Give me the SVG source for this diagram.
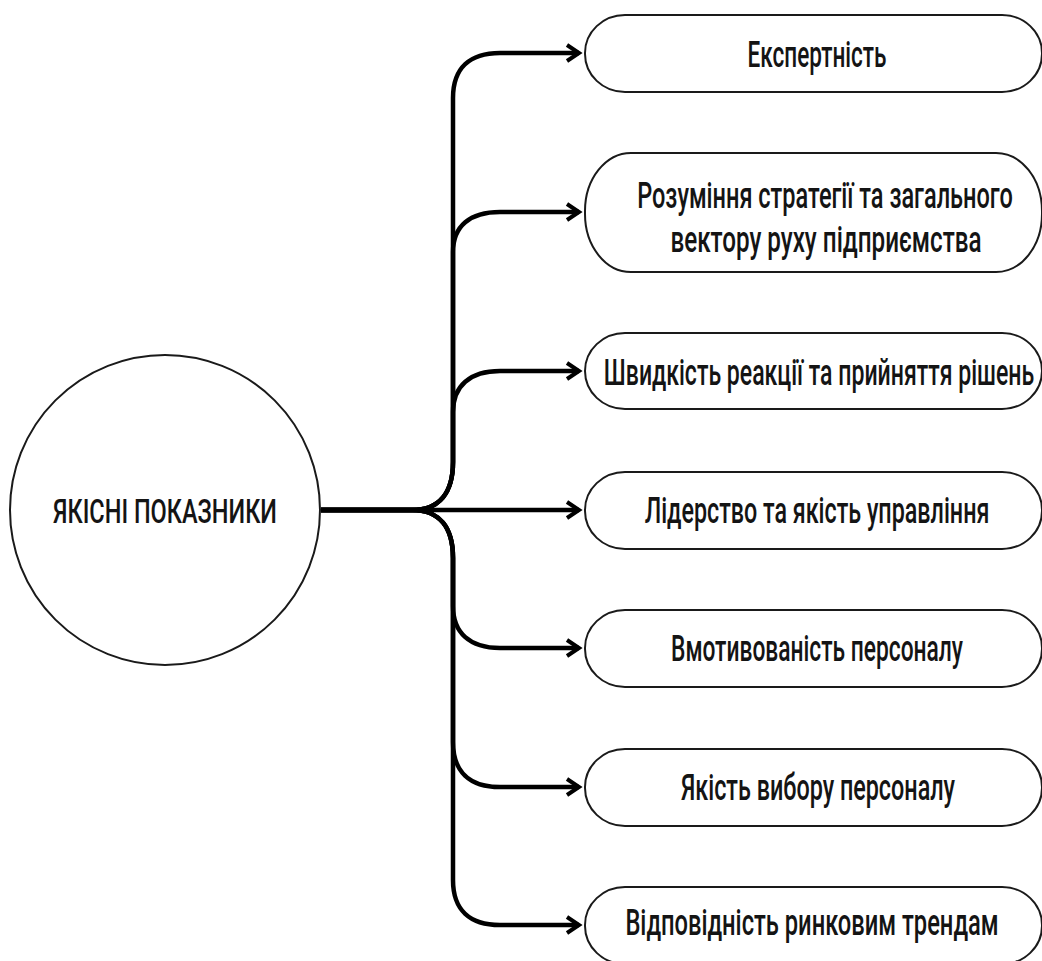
<svg xmlns="http://www.w3.org/2000/svg" width="1042" height="961" viewBox="0 0 1042 961">
  <style>
    .bg { fill: #ffffff; }
    .node-shape { fill: #ffffff; stroke: #1a1a1a; stroke-width: 2; }
    .label { font-family: Roboto, "Liberation Sans", sans-serif; font-weight: 500; font-size: 36px; fill: #141414; text-anchor: middle; }
    .hub-label { font-size: 33px; }
    .edge { fill: none; stroke: #000000; stroke-width: 4.5; stroke-linecap: butt; stroke-linejoin: round; }
  </style>
  <defs>
    <marker id="chevron" markerUnits="userSpaceOnUse" markerWidth="20" markerHeight="24" viewBox="-16 -12 20 24" refX="0" refY="0" orient="auto">
      <path d="M-12,-8 L0,0 L-12,8" fill="none" stroke="#000000" stroke-width="4" stroke-linejoin="miter"/>
    </marker>
  </defs>

  <rect class="bg" x="0" y="0" width="1042" height="961"/>

  <!-- connectors: hub -> each indicator -->
  <g id="connectors">
    <path class="edge" marker-end="url(#chevron)" d="M321,510 H412 C440,510 453,492 453,462 V98 C453,68 470,53 500,53 H579"/>
    <path class="edge" marker-end="url(#chevron)" d="M321,510 H412 C440,510 453,492 453,462 V252 C453,226 470,212 500,212 H579"/>
    <path class="edge" marker-end="url(#chevron)" d="M321,510 H412 C440,510 453,492 453,462 V412 C453,386 470,371 500,371 H579"/>
    <path class="edge" marker-end="url(#chevron)" d="M321,510 H579"/>
    <path class="edge" marker-end="url(#chevron)" d="M321,510 H412 C440,510 453,528 453,558 V606 C453,633 470,648 500,648 H579"/>
    <path class="edge" marker-end="url(#chevron)" d="M321,510 H412 C440,510 453,528 453,558 V742 C453,772 470,787 500,787 H579"/>
    <path class="edge" marker-end="url(#chevron)" d="M321,510 H412 C440,510 453,528 453,558 V880 C453,910 470,925 500,925 H579"/>
  </g>

  <!-- central node; labels use a horizontal squeeze for a condensed face -->
  <g id="hub">
    <ellipse class="node-shape" cx="165" cy="510" rx="155" ry="155"/>
    <text class="label hub-label" transform="translate(165,523) scale(0.62,1)" x="0" y="0" textLength="361" lengthAdjust="spacingAndGlyphs">ЯКІСНІ ПОКАЗНИКИ</text>
  </g>

  <g id="expertise">
    <rect class="node-shape" x="585" y="15" width="457" height="77" rx="40" ry="38"/>
    <text class="label" transform="translate(817,67) scale(0.62,1)" x="0" y="0" textLength="224" lengthAdjust="spacingAndGlyphs">Експертність</text>
  </g>

  <g id="strategy">
    <rect class="node-shape" x="585" y="153" width="457" height="119" rx="46" ry="58"/>
    <text class="label" transform="translate(825,208) scale(0.62,1)" x="0" y="0" textLength="606" lengthAdjust="spacingAndGlyphs">Розуміння стратегії та загального</text>
    <text class="label" transform="translate(826,252) scale(0.62,1)" x="0" y="0" textLength="502" lengthAdjust="spacingAndGlyphs">вектору руху підприємства</text>
  </g>

  <g id="reaction">
    <rect class="node-shape" x="585" y="333" width="457" height="76" rx="40" ry="38"/>
    <text class="label" transform="translate(819,385) scale(0.62,1)" x="0" y="0" textLength="694" lengthAdjust="spacingAndGlyphs">Швидкість реакції та прийняття рішень</text>
  </g>

  <g id="leadership">
    <rect class="node-shape" x="585" y="472" width="457" height="77" rx="40" ry="38"/>
    <text class="label" transform="translate(817,523) scale(0.62,1)" x="0" y="0" textLength="556" lengthAdjust="spacingAndGlyphs">Лідерство та якість управління</text>
  </g>

  <g id="motivation">
    <rect class="node-shape" x="585" y="610" width="457" height="77" rx="40" ry="38"/>
    <text class="label" transform="translate(817,661) scale(0.62,1)" x="0" y="0" textLength="471" lengthAdjust="spacingAndGlyphs">Вмотивованість персоналу</text>
  </g>

  <g id="selection">
    <rect class="node-shape" x="585" y="749" width="457" height="77" rx="40" ry="38"/>
    <text class="label" transform="translate(818,800) scale(0.62,1)" x="0" y="0" textLength="442" lengthAdjust="spacingAndGlyphs">Якість вибору персоналу</text>
  </g>

  <g id="trends">
    <rect class="node-shape" x="585" y="887" width="457" height="77" rx="40" ry="38"/>
    <text class="label" transform="translate(812,935) scale(0.62,1)" x="0" y="0" textLength="602" lengthAdjust="spacingAndGlyphs">Відповідність ринковим трендам</text>
  </g>
</svg>
